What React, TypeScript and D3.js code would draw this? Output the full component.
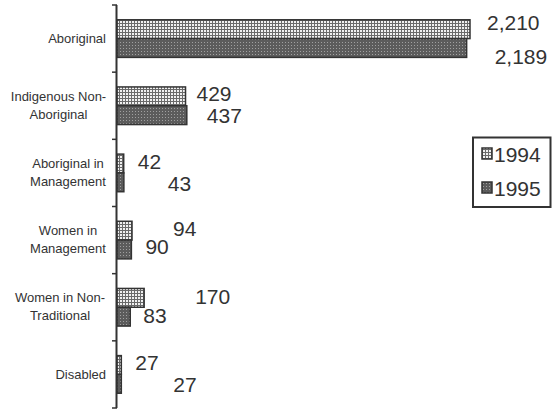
import React from "react";
import * as d3 from "d3";

const categories: string[][] = [
  ["Aboriginal"],
  ["Indigenous Non-", "Aboriginal"],
  ["Aboriginal in", "Management"],
  ["Women in", "Management"],
  ["Women in Non-", "Traditional"],
  ["Disabled"],
];
const series = ["1994", "1995"];
const values1994 = [2210, 429, 42, 94, 170, 27];
const values1995 = [2189, 437, 43, 90, 83, 27];
// label offsets (px) from bar end / bar center, as in the original layout
const labelDx1994 = [17, 11, 14, 41, 51, 14];
const labelDx1995 = [28, 20, 44, 14, 13, 52];
const labelDy1994 = [1, 5, 5, 5, 6, 5];
const labelDy1995 = [16, 8, 9, 5, 6, 8];

const W = 552;
const H = 410;
const axisX = 117;
const top = 5;
const bottom = 408;
const FONT = "'Liberation Sans', Arial, Helvetica, sans-serif";
const INK = "#333";

export default function App() {
  const y = d3
    .scaleBand<number>()
    .domain(d3.range(categories.length))
    .range([top, bottom])
    .paddingInner(0)
    .paddingOuter(0);
  const bw = y.bandwidth();
  const inner = d3
    .scaleBand<string>()
    .domain(series)
    .range([bw * 0.22, bw * 0.78]);
  const x = d3.scaleLinear().domain([0, 2210]).range([axisX, 470]);
  const fmt = d3.format(",");
  const ticks = d3.range(categories.length + 1).map((i) => top + i * bw);
  const labelCenters = [null, 58.5, 68, 68, 60, null];

  const allVals = [values1994, values1995];
  const dxs = [labelDx1994, labelDx1995];
  const dys = [labelDy1994, labelDy1995];
  const fills = ["url(#p1994)", "url(#p1995)"];

  return (
    <svg
      width={W}
      height={H}
      style={{ position: "absolute", left: 0, top: 0, background: "#fff" }}
    >
      <defs>
        <pattern id="p1994" width="3" height="3" patternUnits="userSpaceOnUse">
          <rect width="3" height="3" fill="#6a6a6a" />
          <rect width="2" height="2" fill="#f0f0f0" />
        </pattern>
        <pattern id="p1995" width="3" height="3" patternUnits="userSpaceOnUse">
          <rect width="3" height="3" fill="#5c5c5c" />
          <rect width="1" height="1" fill="#a0a0a0" />
        </pattern>
      </defs>

      {categories.map((lines, i) => {
        const cy = (y(i) as number) + bw / 2;
        return (
          <g key={i}>
            {series.map((s, k) => {
              const v = allVals[k][i];
              const by = (y(i) as number) + (inner(s) as number);
              const bh = inner.bandwidth();
              return (
                <g key={s}>
                  <rect
                    x={axisX}
                    y={by}
                    width={x(v) - axisX}
                    height={bh}
                    fill={fills[k]}
                    stroke={INK}
                    strokeWidth={1.5}
                  />
                  <text
                    x={x(v) + dxs[k][i]}
                    y={by + bh / 2 + dys[k][i]}
                    fontFamily={FONT}
                    fontSize={21}
                    fill={INK}
                  >
                    {fmt(v)}
                  </text>
                </g>
              );
            })}
            {lines.length === 1 ? (
              <text
                x={106}
                y={cy + 4.5}
                textAnchor="end"
                fontFamily={FONT}
                fontSize={13}
                fill={INK}
              >
                {lines[0]}
              </text>
            ) : (
              lines.map((ln, j) => (
                <text
                  key={j}
                  x={labelCenters[i] as number}
                  y={cy - 5 + j * 18}
                  textAnchor="middle"
                  fontFamily={FONT}
                  fontSize={13}
                  fill={INK}
                >
                  {ln}
                </text>
              ))
            )}
          </g>
        );
      })}

      <line x1={axisX - 0.5} x2={axisX - 0.5} y1={top} y2={bottom} stroke={INK} strokeWidth={2} />
      {ticks.map((t, i) => (
        <line key={i} x1={axisX - 5} x2={axisX} y1={t} y2={t} stroke={INK} strokeWidth={1.5} />
      ))}

      <g>
        <rect x={473} y={137.5} width={77.5} height={69.5} fill="#fff" stroke={INK} strokeWidth={2} />
        {series.map((s, k) => (
          <g key={s}>
            <rect
              x={482}
              y={148 + k * 34}
              width={10}
              height={11}
              fill={fills[k]}
              stroke={INK}
              strokeWidth={1.5}
            />
            <text x={494} y={162 + k * 34} fontFamily={FONT} fontSize={21} fill={INK}>
              {s}
            </text>
          </g>
        ))}
      </g>
    </svg>
  );
}
